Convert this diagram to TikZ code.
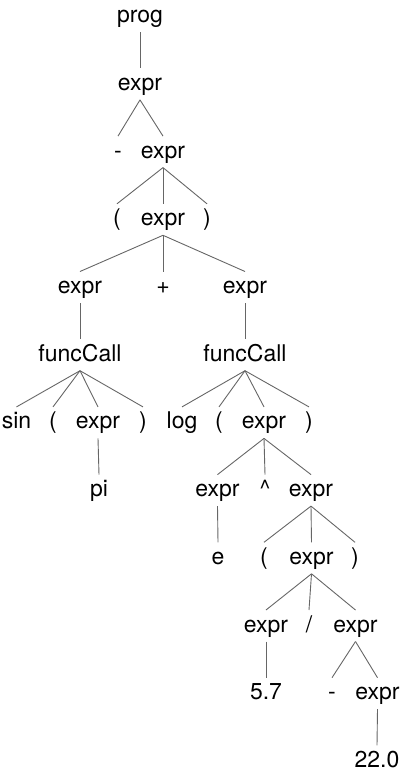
\documentclass[tikz,border=0pt]{standalone}
\usepackage{fontspec}
\setmainfont{TeX Gyre Heros}
\tikzset{
  lbl/.style={anchor=base, inner sep=0pt, font=\fontsize{23bp}{27bp}\selectfont},
  edgeline/.style={draw=black!60, line width=0.9bp}
}
\newcommand\tedge[2]{\draw[edgeline] ([yshift=-9.5bp]#1.base) -- ([yshift=22bp]#2.base);}
\begin{document}
\begin{tikzpicture}[x=1bp, y=-1bp]
\useasboundingbox (0,0) rectangle (402,779);
\def\ya{22.7}\def\yb{90.4}\def\yc{158.1}\def\yd{225.8}\def\ye{293.5}\def\yf{361.2}
\def\yg{428.9}\def\yh{496.6}\def\yi{564.3}\def\yj{632.0}\def\yk{699.7}\def\yl{767.4}
\node[lbl] (prog) at (140,\ya) {prog};
\node[lbl] (e1) at (140,\yb) {expr};
\node[lbl] (m1) at (118,\yc) {-};
\node[lbl] (e2) at (163,\yc) {expr};
\node[lbl] (lp1) at (117,\yd) {(};
\node[lbl] (e3) at (163,\yd) {expr};
\node[lbl] (rp1) at (207,\yd) {)};
\node[lbl] (e4) at (80,\ye) {expr};
\node[lbl] (plus) at (163,\ye) {+};
\node[lbl] (e5) at (245,\ye) {expr};
\node[lbl] (f1) at (80,\yf) {funcCall};
\node[lbl] (f2) at (245,\yf) {funcCall};
\node[lbl] (sin) at (16.5,\yg) {sin};
\node[lbl] (lp2) at (53,\yg) {(};
\node[lbl] (e6) at (98,\yg) {expr};
\node[lbl] (rp2) at (143,\yg) {)};
\node[lbl] (log) at (182,\yg) {log};
\node[lbl] (lp3) at (219,\yg) {(};
\node[lbl] (e7) at (264,\yg) {expr};
\node[lbl] (rp3) at (309,\yg) {)};
\node[lbl] (pi) at (99,\yh) {pi};
\node[lbl] (e8) at (217.5,\yh) {expr};
\node[lbl] (caret) at (265,\yh) {\textasciicircum};
\node[lbl] (e9) at (311,\yh) {expr};
\node[lbl] (ee) at (218,\yi) {e};
\node[lbl] (lp4) at (264,\yi) {(};
\node[lbl] (e10) at (311.5,\yi) {expr};
\node[lbl] (rp4) at (355,\yi) {)};
\node[lbl] (e11) at (266,\yj) {expr};
\node[lbl] (slash) at (309,\yj) {/};
\node[lbl] (e12) at (355.5,\yj) {expr};
\node[lbl] (n57) at (266,\yk) {5.7};
\node[lbl] (m2) at (332,\yk) {-};
\node[lbl] (e13) at (377.5,\yk) {expr};
\node[lbl] (n22) at (377,\yl) {22.0};
\tedge{prog}{e1}
\tedge{e1}{m1}\tedge{e1}{e2}
\tedge{e2}{lp1}\tedge{e2}{e3}\tedge{e2}{rp1}
\tedge{e3}{e4}\tedge{e3}{plus}\tedge{e3}{e5}
\tedge{e4}{f1}\tedge{e5}{f2}
\tedge{f1}{sin}\tedge{f1}{lp2}\tedge{f1}{e6}\tedge{f1}{rp2}
\tedge{f2}{log}\tedge{f2}{lp3}\tedge{f2}{e7}\tedge{f2}{rp3}
\tedge{e6}{pi}
\tedge{e7}{e8}\tedge{e7}{caret}\tedge{e7}{e9}
\tedge{e8}{ee}
\tedge{e9}{lp4}\tedge{e9}{e10}\tedge{e9}{rp4}
\tedge{e10}{e11}\tedge{e10}{slash}\tedge{e10}{e12}
\tedge{e11}{n57}
\tedge{e12}{m2}\tedge{e12}{e13}
\tedge{e13}{n22}
\end{tikzpicture}
\end{document}
